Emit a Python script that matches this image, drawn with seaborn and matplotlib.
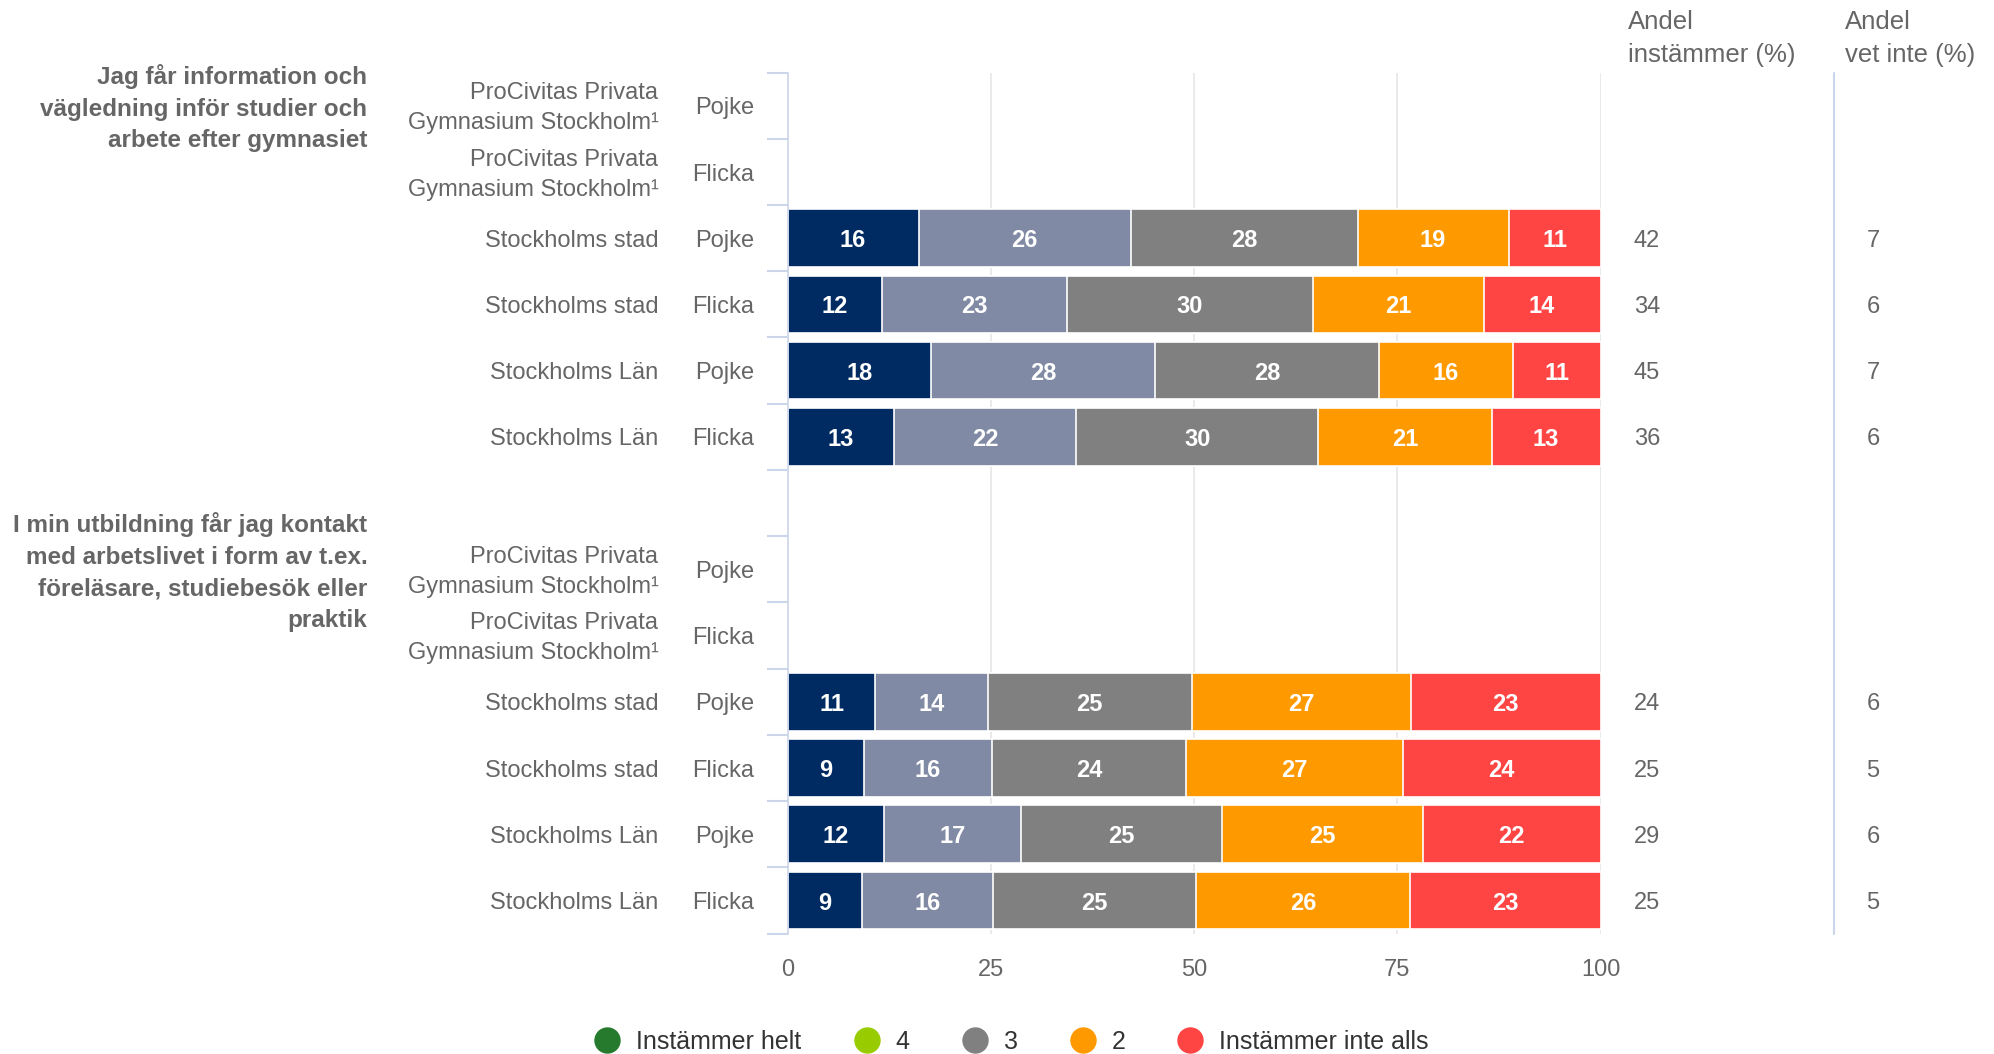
import numpy as np
import pandas as pd
import matplotlib
matplotlib.use('Agg')
import matplotlib.pyplot as plt
import seaborn as sns
from matplotlib.lines import Line2D

# Response categories and colours
responses = ['Instämmer helt', '4', '3', '2', 'Instämmer inte alls']
bar_colors = ['#002b62', '#808aa5', '#808080', '#ff9900', '#ff4444']
legend_colors = ['#267a2e', '#99cc00', '#808080', '#ff9900', '#ff4444']

# Question texts
questions = ['Jag får information och\nvägledning inför studier och\narbete efter gymnasiet',
             'I min utbildning får jag kontakt\nmed arbetslivet i form av t.ex.\nföreläsare, studiebesök eller\npraktik']
schools = ['ProCivitas Privata\nGymnasium Stockholm\u00b9', 'ProCivitas Privata\nGymnasium Stockholm\u00b9',
           'Stockholms stad', 'Stockholms stad', 'Stockholms Län', 'Stockholms Län']
genders = ['Pojke', 'Flicka', 'Pojke', 'Flicka', 'Pojke', 'Flicka']

# Shares (%) for the rows with data: Stockholms stad P/F, Stockholms Län P/F
helt_q1 = [16.1, 11.6, 17.6, 13.1]
fyra_q1 = [26.1, 22.8, 27.6, 22.4]
tre_q1 = [27.9, 30.2, 27.6, 29.8]
tva_q1 = [18.6, 21.0, 16.4, 21.3]
inte_q1 = [11.3, 14.4, 10.8, 13.4]

helt_q2 = [10.8, 9.4, 11.9, 9.2]
fyra_q2 = [13.8, 15.7, 16.8, 16.1]
tre_q2 = [25.1, 23.9, 24.7, 24.9]
tva_q2 = [27.0, 26.7, 24.7, 26.4]
inte_q2 = [23.3, 24.3, 21.9, 23.4]

andel_instammer = [42, 34, 45, 36, 24, 25, 29, 25]
andel_vet_inte = [7, 6, 7, 6, 6, 5, 6, 5]

# Row slots: 6 rows per question with an empty slot between
slot_order = ['q1_pc_p', 'q1_pc_f', 'q1_ss_p', 'q1_ss_f', 'q1_sl_p', 'q1_sl_f', 'gap',
              'q2_pc_p', 'q2_pc_f', 'q2_ss_p', 'q2_ss_f', 'q2_sl_p', 'q2_sl_f']
data_slots = ['q1_ss_p', 'q1_ss_f', 'q1_sl_p', 'q1_sl_f', 'q2_ss_p', 'q2_ss_f', 'q2_sl_p', 'q2_sl_f']

df = pd.DataFrame({'slot': data_slots,
                   responses[0]: helt_q1 + helt_q2,
                   responses[1]: fyra_q1 + fyra_q2,
                   responses[2]: tre_q1 + tre_q2,
                   responses[3]: tva_q1 + tva_q2,
                   responses[4]: inte_q1 + inte_q2})
cum = df[responses].cumsum(axis=1)

sns.set_style('white')
plt.rcParams['font.family'] = ['Liberation Sans', 'DejaVu Sans']

fig = plt.figure(figsize=(19.94, 10.54), dpi=100)
ax = fig.add_axes([0.395, 0.1143, 0.4077, 0.8169])

# Stacked bars: draw cumulative totals from the longest to the shortest
for resp, color in reversed(list(zip(responses, bar_colors))):
    sns.barplot(x=cum[resp], y=df['slot'], order=slot_order, orient='h', color=color,
                saturation=1, width=0.87, edgecolor='white', linewidth=1.2,
                errorbar=None, ax=ax)

dy = 0.04  # small downward nudge so text sits centred like the reference

# Value labels inside the segments
for i, slot in enumerate(df['slot']):
    y = slot_order.index(slot)
    left = 0
    for resp in responses:
        v = df.loc[i, resp]
        ax.text(left + v / 2, y + dy, f'{v:.0f}', ha='center', va='center',
                color='white', fontsize=17, fontweight='bold')
        left += v

ax.set_xlim(0, 100)
ax.set_ylim(12.5, -0.5)
ax.set_xlabel('')
ax.set_ylabel('')
ax.set_xticks([0, 25, 50, 75, 100])
ax.set_axisbelow(True)
ax.xaxis.grid(True, color='#e6e6e6', lw=1.2)
ax.yaxis.grid(False)
ax.tick_params(axis='x', length=0, pad=18, labelsize=17, labelcolor='#666666')
ax.set_yticks(np.arange(-0.5, 13, 1))
ax.set_yticklabels([])
ax.tick_params(axis='y', left=True, length=15, color='#ccd6eb', width=1.5)
for s in ['top', 'right', 'bottom']:
    ax.spines[s].set_visible(False)
ax.spines['left'].set_color('#ccd6eb')
ax.spines['left'].set_linewidth(1.2)

# Row labels on the left
trans = ax.get_yaxis_transform()
for g in range(2):
    ax.text(-0.517, g * 7 + dy, questions[g], ha='right', va='center', fontsize=17.5,
            fontweight='bold', color='#666666', linespacing=1.48, transform=trans)
    for j in range(6):
        y = g * 7 + j + dy
        ax.text(-0.1589, y, schools[j], ha='right', va='center', fontsize=17,
                color='#666666', linespacing=1.47, transform=trans)
        ax.text(-0.0406, y, genders[j], ha='right', va='center', fontsize=17,
                color='#666666', transform=trans)

# Extra columns on the right
for i, slot in enumerate(data_slots):
    y = slot_order.index(slot) + dy
    ax.text(1.0406, y, str(andel_instammer[i]), ha='left', va='center', fontsize=17,
            color='#666666', transform=trans)
    ax.text(1.327, y, str(andel_vet_inte[i]), ha='left', va='center', fontsize=17,
            color='#666666', transform=trans)
ax.plot([1.287, 1.287], [0, 1], transform=ax.transAxes, clip_on=False,
        color='#ccd6eb', lw=1.5)
fig.text(0.8164, 0.9635, 'Andel\ninstämmer (%)', ha='left', va='center', fontsize=18.5,
         color='#666666', linespacing=1.45)
fig.text(0.9253, 0.9635, 'Andel\nvet inte (%)', ha='left', va='center', fontsize=18.5,
         color='#666666', linespacing=1.45)

# Legend
handles = [Line2D([], [], marker='o', ls='', markersize=18, markerfacecolor=c,
                  markeredgecolor=c) for c in legend_colors]
fig.legend(handles, responses, loc='center', bbox_to_anchor=(0.5075, 0.0115), ncol=5,
           frameon=False, fontsize=18, handlelength=1.0, handletextpad=0.66,
           columnspacing=2.1, labelcolor='#333333')

fig.savefig('out.png', dpi=100)
